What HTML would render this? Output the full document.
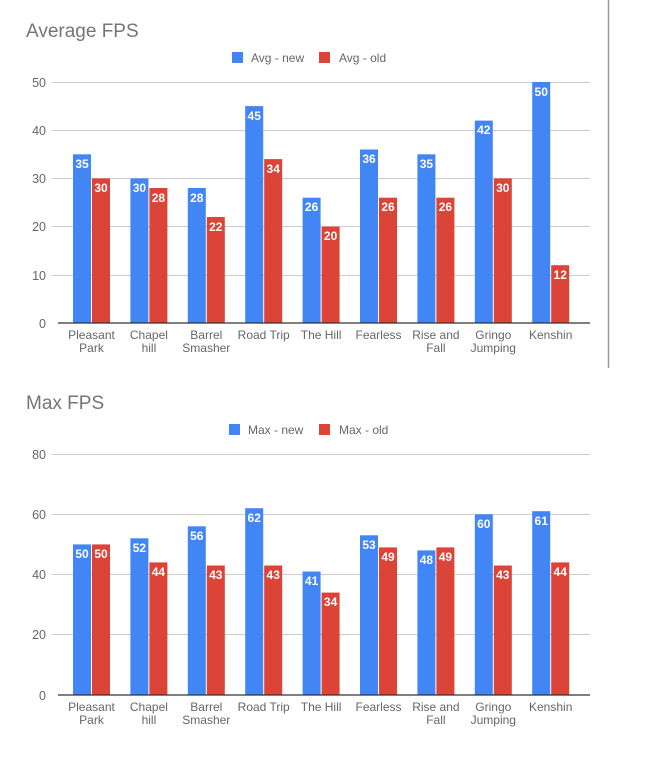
<!DOCTYPE html>
<html><head><meta charset="utf-8"><style>
body{margin:0;background:#fff;width:656px;height:773px;overflow:hidden}
text{font-family:"Liberation Sans",Arial,sans-serif}
.t{font-size:19px;fill:#757575}
.lg{font-size:12px;fill:#666}
.ax{font-size:12.5px;fill:#666}
.cat{font-size:12px;fill:#666;text-anchor:middle}
.v{font-size:12px;fill:#fff;font-weight:bold;text-anchor:middle}
.g{stroke:#ccc;stroke-width:1}
.b{fill:#4285f4}.r{fill:#db4437}
</style></head><body>
<svg width="656" height="773" xmlns="http://www.w3.org/2000/svg">
<line x1="608.5" y1="0" x2="608.5" y2="368" stroke="#999" stroke-width="1.5"/>
<!-- Chart 1 -->
<text class="t" x="26" y="37">Average FPS</text>
<rect x="232" y="52" width="11" height="11" class="b"/><text class="lg" x="251" y="62">Avg - new</text>
<rect x="319" y="52" width="11" height="11" class="r"/><text class="lg" x="339" y="62">Avg - old</text>
<g class="g">
<line x1="52" x2="590" y1="82.5" y2="82.5"/><line x1="52" x2="590" y1="130.5" y2="130.5"/>
<line x1="52" x2="590" y1="178.5" y2="178.5"/><line x1="52" x2="590" y1="226.5" y2="226.5"/>
<line x1="52" x2="590" y1="275.5" y2="275.5"/>
</g>
<g class="ax" text-anchor="end">
<text x="46" y="87">50</text><text x="46" y="135">40</text><text x="46" y="183">30</text>
<text x="46" y="231">20</text><text x="46" y="280">10</text><text x="46" y="328">0</text>
</g>
<g>
<rect class="b" x="73" y="154.3" width="18" height="168.7"/><rect class="r" x="92" y="178.4" width="18" height="144.6"/>
<rect class="b" x="130.4" y="178.4" width="18" height="144.6"/><rect class="r" x="149.4" y="188" width="18" height="135"/>
<rect class="b" x="187.8" y="188" width="18" height="135"/><rect class="r" x="206.8" y="217" width="18" height="106"/>
<rect class="b" x="245.2" y="106.1" width="18" height="216.9"/><rect class="r" x="264.2" y="159.1" width="18" height="163.9"/>
<rect class="b" x="302.6" y="197.7" width="18" height="125.3"/><rect class="r" x="321.6" y="226.6" width="18" height="96.4"/>
<rect class="b" x="360" y="149.5" width="18" height="173.5"/><rect class="r" x="379" y="197.7" width="18" height="125.3"/>
<rect class="b" x="417.4" y="154.3" width="18" height="168.7"/><rect class="r" x="436.4" y="197.7" width="18" height="125.3"/>
<rect class="b" x="474.8" y="120.6" width="18" height="202.4"/><rect class="r" x="493.8" y="178.4" width="18" height="144.6"/>
<rect class="b" x="532.2" y="82" width="18" height="241"/><rect class="r" x="551.2" y="265.2" width="18" height="57.8"/>
</g>
<line x1="58" x2="590" y1="323" y2="323" stroke="#333" stroke-width="1.2"/>
<g class="v">
<text x="82" y="168">35</text><text x="101" y="192">30</text>
<text x="139.4" y="192">30</text><text x="158.4" y="202">28</text>
<text x="196.8" y="202">28</text><text x="215.8" y="231">22</text>
<text x="254.2" y="120">45</text><text x="273.2" y="173">34</text>
<text x="311.6" y="211">26</text><text x="330.6" y="240">20</text>
<text x="369" y="163">36</text><text x="388" y="211">26</text>
<text x="426.4" y="168">35</text><text x="445.4" y="211">26</text>
<text x="483.8" y="134">42</text><text x="502.8" y="192">30</text>
<text x="541.2" y="96">50</text><text x="560.2" y="279">12</text>
</g>
<g class="cat">
<text x="91.5" y="339">Pleasant</text><text x="91.5" y="352">Park</text>
<text x="148.9" y="339">Chapel</text><text x="148.9" y="352">hill</text>
<text x="206.3" y="339">Barrel</text><text x="206.3" y="352">Smasher</text>
<text x="263.7" y="339">Road Trip</text>
<text x="321.1" y="339">The Hill</text>
<text x="378.5" y="339">Fearless</text>
<text x="435.9" y="339">Rise and</text><text x="435.9" y="352">Fall</text>
<text x="493.3" y="339">Gringo</text><text x="493.3" y="352">Jumping</text>
<text x="550.7" y="339">Kenshin</text>
</g>
<!-- Chart 2 -->
<text class="t" x="26" y="409">Max FPS</text>
<rect x="229" y="424" width="11" height="11" class="b"/><text class="lg" x="248" y="434">Max - new</text>
<rect x="319" y="424" width="11" height="11" class="r"/><text class="lg" x="339" y="434">Max - old</text>
<g class="g">
<line x1="52" x2="590" y1="454.5" y2="454.5"/><line x1="52" x2="590" y1="514.5" y2="514.5"/>
<line x1="52" x2="590" y1="574.5" y2="574.5"/><line x1="52" x2="590" y1="634.5" y2="634.5"/>
</g>
<g class="ax" text-anchor="end">
<text x="46" y="459">80</text><text x="46" y="519">60</text><text x="46" y="579">40</text>
<text x="46" y="639">20</text><text x="46" y="700">0</text>
</g>
<g>
<rect class="b" x="73" y="544.4" width="18" height="150.6"/><rect class="r" x="92" y="544.4" width="18" height="150.6"/>
<rect class="b" x="130.4" y="538.3" width="18" height="156.7"/><rect class="r" x="149.4" y="562.4" width="18" height="132.6"/>
<rect class="b" x="187.8" y="526.3" width="18" height="168.7"/><rect class="r" x="206.8" y="565.5" width="18" height="129.5"/>
<rect class="b" x="245.2" y="508.2" width="18" height="186.8"/><rect class="r" x="264.2" y="565.5" width="18" height="129.5"/>
<rect class="b" x="302.6" y="571.5" width="18" height="123.5"/><rect class="r" x="321.6" y="592.6" width="18" height="102.4"/>
<rect class="b" x="360" y="535.3" width="18" height="159.7"/><rect class="r" x="379" y="547.4" width="18" height="147.6"/>
<rect class="b" x="417.4" y="550.4" width="18" height="144.6"/><rect class="r" x="436.4" y="547.4" width="18" height="147.6"/>
<rect class="b" x="474.8" y="514.3" width="18" height="180.7"/><rect class="r" x="493.8" y="565.5" width="18" height="129.5"/>
<rect class="b" x="532.2" y="511.2" width="18" height="183.8"/><rect class="r" x="551.2" y="562.4" width="18" height="132.6"/>
</g>
<line x1="58" x2="590" y1="695" y2="695" stroke="#333" stroke-width="1.2"/>
<g class="v">
<text x="82" y="558">50</text><text x="101" y="558">50</text>
<text x="139.4" y="552">52</text><text x="158.4" y="576">44</text>
<text x="196.8" y="540">56</text><text x="215.8" y="579">43</text>
<text x="254.2" y="522">62</text><text x="273.2" y="579">43</text>
<text x="311.6" y="585">41</text><text x="330.6" y="606">34</text>
<text x="369" y="549">53</text><text x="388" y="561">49</text>
<text x="426.4" y="564">48</text><text x="445.4" y="561">49</text>
<text x="483.8" y="528">60</text><text x="502.8" y="579">43</text>
<text x="541.2" y="525">61</text><text x="560.2" y="576">44</text>
</g>
<g class="cat">
<text x="91.5" y="711">Pleasant</text><text x="91.5" y="724">Park</text>
<text x="148.9" y="711">Chapel</text><text x="148.9" y="724">hill</text>
<text x="206.3" y="711">Barrel</text><text x="206.3" y="724">Smasher</text>
<text x="263.7" y="711">Road Trip</text>
<text x="321.1" y="711">The Hill</text>
<text x="378.5" y="711">Fearless</text>
<text x="435.9" y="711">Rise and</text><text x="435.9" y="724">Fall</text>
<text x="493.3" y="711">Gringo</text><text x="493.3" y="724">Jumping</text>
<text x="550.7" y="711">Kenshin</text>
</g>
</svg>
</body></html>
